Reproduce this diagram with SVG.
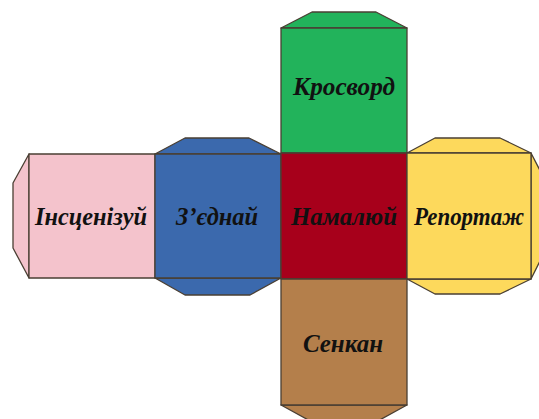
<svg xmlns="http://www.w3.org/2000/svg" width="539" height="419" viewBox="0 0 539 419">
<style>
.f{stroke:#4a3f33;stroke-width:1.3;stroke-linejoin:round}
.t{font-family:"Liberation Serif","DejaVu Serif",serif;font-weight:bold;font-style:italic;font-size:26px;fill:#111;text-anchor:middle}
</style>
<rect width="539" height="419" fill="#ffffff"/>
<g id="kroswvord">
<polygon class="f" fill="#22B35B" points="281,28 312,12 376,12 407,28"/>
<rect class="f" fill="#22B35B" x="281" y="28" width="126" height="125"/>
<text class="t" x="344" y="95" textLength="102" lengthAdjust="spacingAndGlyphs">Кросворд</text>
</g>
<g id="inscenizui">
<polygon class="f" fill="#F4C3CC" points="29,154 13,183 13,248 29,278"/>
<rect class="f" fill="#F4C3CC" x="29" y="154" width="126" height="124"/>
<text class="t" x="91" y="225" textLength="112" lengthAdjust="spacingAndGlyphs">Інсценізуй</text>
</g>
<g id="zednai">
<polygon class="f" fill="#3B69AD" points="155,154 185,138 249,138 281,154"/>
<polygon class="f" fill="#3B69AD" points="155,278 185,295 250,295 281,278"/>
<rect class="f" fill="#3B69AD" x="155" y="154" width="126" height="124"/>
<text class="t" x="217" y="225" textLength="82" lengthAdjust="spacingAndGlyphs">З’єднай</text>
</g>
<g id="namaliui">
<rect class="f" fill="#A7001B" x="281" y="153" width="126" height="126"/>
<text class="t" x="344" y="225" textLength="106" lengthAdjust="spacingAndGlyphs">Намалюй</text>
</g>
<g id="reportazh">
<polygon class="f" fill="#FDD95C" points="407,153 435,138 500,138 531,153"/>
<polygon class="f" fill="#FDD95C" points="407,279 435,294 500,294 531,279"/>
<polygon class="f" fill="#FDD95C" points="531,153 546,182 546,249 531,279"/>
<rect class="f" fill="#FDD95C" x="407" y="153" width="124" height="126"/>
<text class="t" x="469" y="225" textLength="110" lengthAdjust="spacingAndGlyphs">Репортаж</text>
</g>
<g id="senkan">
<polygon class="f" fill="#B47F4B" points="281,405 312,422 376,422 407,405"/>
<rect class="f" fill="#B47F4B" x="281" y="279" width="126" height="126"/>
<text class="t" x="343" y="352" textLength="80" lengthAdjust="spacingAndGlyphs">Сенкан</text>
</g>
<g id="connectors"></g>
</svg>
